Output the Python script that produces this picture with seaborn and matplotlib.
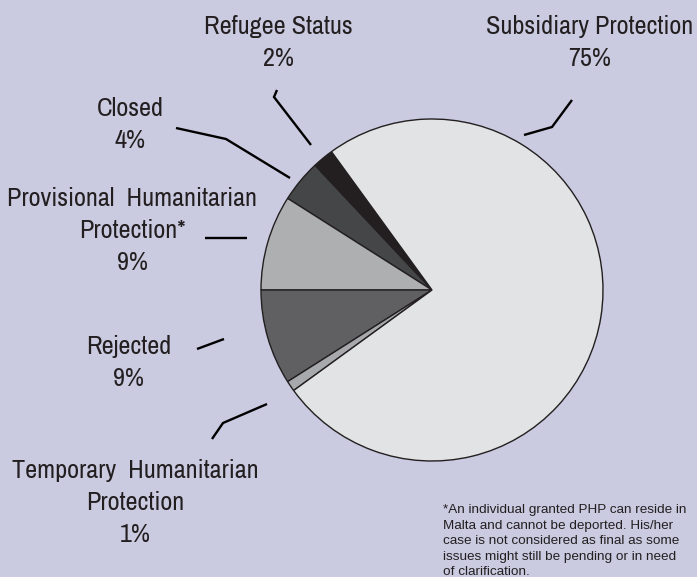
import matplotlib
matplotlib.use("Agg")
import matplotlib.pyplot as plt
import seaborn as sns

# ---- data ----
categories = ["Refugee Status", "Closed", "Provisional Humanitarian Protection*",
              "Rejected", "Temporary Humanitarian Protection", "Subsidiary Protection"]
values = [2, 4, 9, 9, 1, 75]
label_lines = [["Refugee Status"], ["Closed"], ["Provisional  Humanitarian", "Protection*"],
               ["Rejected"], ["Temporary  Humanitarian", "Protection"], ["Subsidiary Protection"]]
slice_colors = ["#231F20", "#454648", "#AEAFB1", "#606062", "#A7A9AC", "#E2E3E4"]
footnote = ["*An individual granted PHP can reside in",
            "Malta and cannot be deported. His/her",
            "case is not considered as final as some",
            "issues might still be pending or in need",
            "of clarification."]

W, H = 697, 577
BG = "#CACAE0"

sns.set_style("white")
plt.rcParams['font.family'] = ['Archivo Narrow', 'Liberation Sans', 'DejaVu Sans']

fig = plt.figure(figsize=(W / 100, H / 100), dpi=100)
fig.patch.set_facecolor(BG)
ax = fig.add_axes([0, 0, 1, 1])
ax.set_facecolor(BG)

ax.pie(values, colors=slice_colors, startangle=126, counterclock=True,
       center=(432, H - 290), radius=171,
       wedgeprops=dict(edgecolor="#231F20", linewidth=1.0))
ax.set_xlim(0, W)
ax.set_ylim(0, H)
ax.set_aspect('equal')
ax.axis('off')

# label layout (pixel positions: centre x, first line centre y)
label_pos = [(278, 27), (130, 108), (132, 199), (129, 346), (135, 470), (590, 27)]
line_step = 32
for lines, v, (x, y) in zip(label_lines, values, label_pos):
    for i, t in enumerate(lines + [f"{v}%"]):
        ax.text(x, H - (y + i * line_step), t, ha='center', va='center',
                fontsize=18.9, color="#231F20")

# leader lines (pixel coordinates)
leaders = [
    [(311, 145), (274, 97), (277, 90)],
    [(290, 178), (226, 139), (176, 128)],
    [(247, 238), (205, 238)],
    [(224, 339), (197, 349)],
    [(267, 404), (223, 423), (212, 439)],
    [(524, 135), (552, 127), (572, 100)],
]
for pts in leaders:
    xs = [p[0] for p in pts]
    ys = [H - p[1] for p in pts]
    ax.plot(xs, ys, color="#000000", lw=1.7, solid_capstyle='butt',
            solid_joinstyle='miter')

for i, t in enumerate(footnote):
    ax.text(443, H - (510 + i * 15.6), t, ha='left', va='center',
            fontsize=9.7, color="#231F20", family=['Liberation Sans', 'DejaVu Sans'])

fig.savefig("out.png", dpi=100, facecolor=BG)
